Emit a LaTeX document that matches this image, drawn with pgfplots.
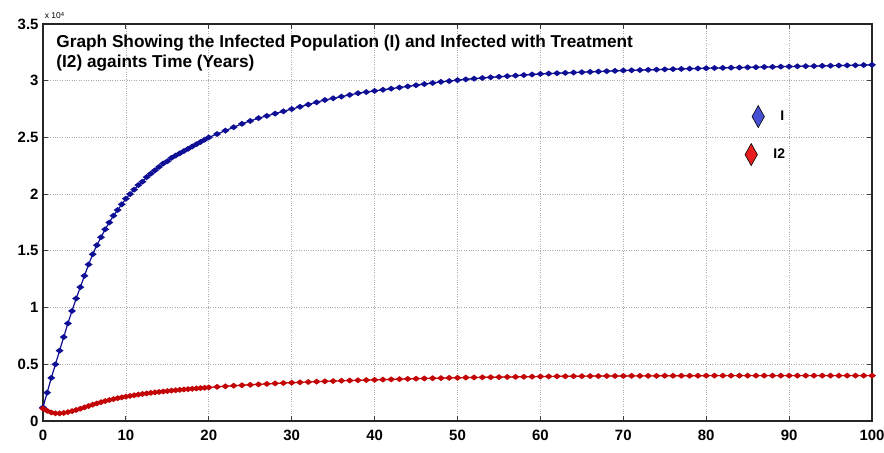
\documentclass[border=0pt]{standalone}
\usepackage{pgfplots}
\usepackage{pgfplotstable}
\pgfplotsset{compat=1.18}
\usepackage{fontspec}
\setmainfont{Liberation Sans}
\definecolor{iblue}{RGB}{15,15,150}
\definecolor{ired}{RGB}{195,5,5}
\definecolor{lblue}{RGB}{70,80,210}
\definecolor{lred}{RGB}{230,30,30}
\pgfplotstableread{
t I I2
0 0.12 0.11
0.5 0.25 0.09
1 0.38 0.075
1.5 0.50 0.068
2 0.62 0.067
2.5 0.74 0.071
3 0.86 0.078
3.5 0.97 0.087
4 1.08 0.097
4.5 1.18 0.108
5 1.28 0.12
5.5 1.38 0.132
6 1.47 0.144
6.5 1.55 0.155
7 1.62 0.166
7.5 1.69 0.176
8 1.75 0.185
8.5 1.81 0.193
9 1.86 0.201
9.5 1.91 0.208
10 1.96 0.215
10.5 2.00 0.221
11 2.04 0.227
11.5 2.08 0.233
12 2.11 0.238
12.5 2.15 0.243
13 2.18 0.248
13.5 2.21 0.252
14 2.24 0.256
14.5 2.27 0.26
15 2.29 0.264
15.5 2.32 0.268
16 2.34 0.271
16.5 2.36 0.275
17 2.38 0.278
17.5 2.40 0.281
18 2.42 0.284
18.5 2.44 0.287
19 2.46 0.29
19.5 2.48 0.293
20 2.50 0.296
21 2.53 0.301
22 2.56 0.306
23 2.59 0.311
24 2.62 0.315
25 2.645 0.319
26 2.67 0.323
27 2.69 0.327
28 2.71 0.331
29 2.73 0.335
30 2.75 0.338
31 2.77 0.341
32 2.79 0.344
33 2.81 0.347
34 2.83 0.35
35 2.845 0.352
36 2.86 0.355
37 2.875 0.357
38 2.89 0.359
39 2.90 0.361
40 2.91 0.363
41 2.92 0.365
42 2.93 0.367
43 2.94 0.369
44 2.95 0.371
45 2.96 0.373
46 2.97 0.375
47 2.98 0.377
48 2.99 0.378
49 2.997 0.38
50 3.005 0.381
51 3.012 0.383
52 3.018 0.384
53 3.024 0.385
54 3.03 0.386
55 3.035 0.387
56 3.04 0.388
57 3.045 0.389
58 3.05 0.39
59 3.055 0.391
60 3.06 0.392
61 3.063 0.393
62 3.066 0.394
63 3.069 0.394
64 3.072 0.395
65 3.075 0.395
66 3.078 0.396
67 3.081 0.396
68 3.084 0.397
69 3.087 0.397
70 3.09 0.397
71 3.092 0.398
72 3.094 0.398
73 3.096 0.398
74 3.098 0.398
75 3.10 0.399
76 3.102 0.399
77 3.104 0.399
78 3.106 0.399
79 3.108 0.399
80 3.11 0.40
81 3.112 0.40
82 3.113 0.40
83 3.115 0.40
84 3.116 0.40
85 3.118 0.40
86 3.119 0.40
87 3.121 0.40
88 3.122 0.40
89 3.124 0.40
90 3.125 0.40
91 3.127 0.40
92 3.128 0.40
93 3.129 0.40
94 3.131 0.40
95 3.132 0.40
96 3.134 0.40
97 3.135 0.40
98 3.136 0.40
99 3.138 0.40
100 3.14 0.40
}\datatable
\begin{document}
\begin{tikzpicture}
\begin{axis}[
  scale only axis,
  width=829bp, height=397bp,
  xmin=0, xmax=100, ymin=0, ymax=3.5,
  xtick={0,10,...,100},
  ytick={0,0.5,...,3.5},
  yticklabels={0,0.5,1,1.5,2,2.5,3,3.5},
  xticklabel style={font=\bfseries\fontsize{15}{15}\selectfont, yshift=-6bp},
  yticklabel style={font=\bfseries\fontsize{15}{15}\selectfont, xshift=-1bp},
  /pgf/number format/assume math mode=true,
  grid=major,
  major grid style={dotted, gray!65, line width=0.8pt},
  tick align=inside,
  major tick length=5bp,
  tick style={black!75, line width=1.2pt},
  axis line style={black!85, line width=1.3pt},
  legend style={at={(rel axis cs:0.843,0.80)}, anchor=north west, draw=none, fill=none,
    font=\bfseries\fontsize{14}{14}\selectfont, row sep=16bp,
    legend cell align=left, nodes={inner xsep=6bp}},
  legend image code/.code={\draw[#1] plot coordinates {(0.3cm,0cm)};},
  clip=false,
]
\addlegendimage{only marks, mark=diamond*, mark size=11bp, mark options={xscale=0.75, fill=lblue, draw=black, line width=0.6pt}}
\addlegendentry{\hspace*{10bp}I}
\addlegendimage{only marks, mark=diamond*, mark size=11bp, mark options={xscale=0.75, fill=lred, draw=black, line width=0.6pt}, xshift=-7bp}
\addlegendentry{\hspace*{3bp}I2}
\addplot[iblue, line width=1.2pt, mark=diamond*, mark size=3bp, mark options={rotate=90, fill=iblue, draw=iblue}, forget plot] table[x=t, y=I] {\datatable};
\addplot[ired, line width=1.2pt, mark=diamond*, mark size=3bp, mark options={rotate=90, fill=ired, draw=ired}, forget plot] table[x=t, y=I2] {\datatable};
\node[anchor=north west, align=left, font=\bfseries\fontsize{17.3}{20}\selectfont, inner sep=0pt] at (rel axis cs:0.016,0.972)
  {Graph Showing the Infected Population (I) and Infected with Treatment\\(I2) againts Time (Years)};
\node[anchor=south west, font=\fontsize{8.5}{8.5}\selectfont, inner sep=0pt] at (rel axis cs:0.002,1.012) {x 10\textsuperscript{4}};
\end{axis}
\pgfresetboundingbox
\path[use as bounding box] (-43bp,-32bp) rectangle (841bp,421bp);
\end{tikzpicture}
\end{document}
